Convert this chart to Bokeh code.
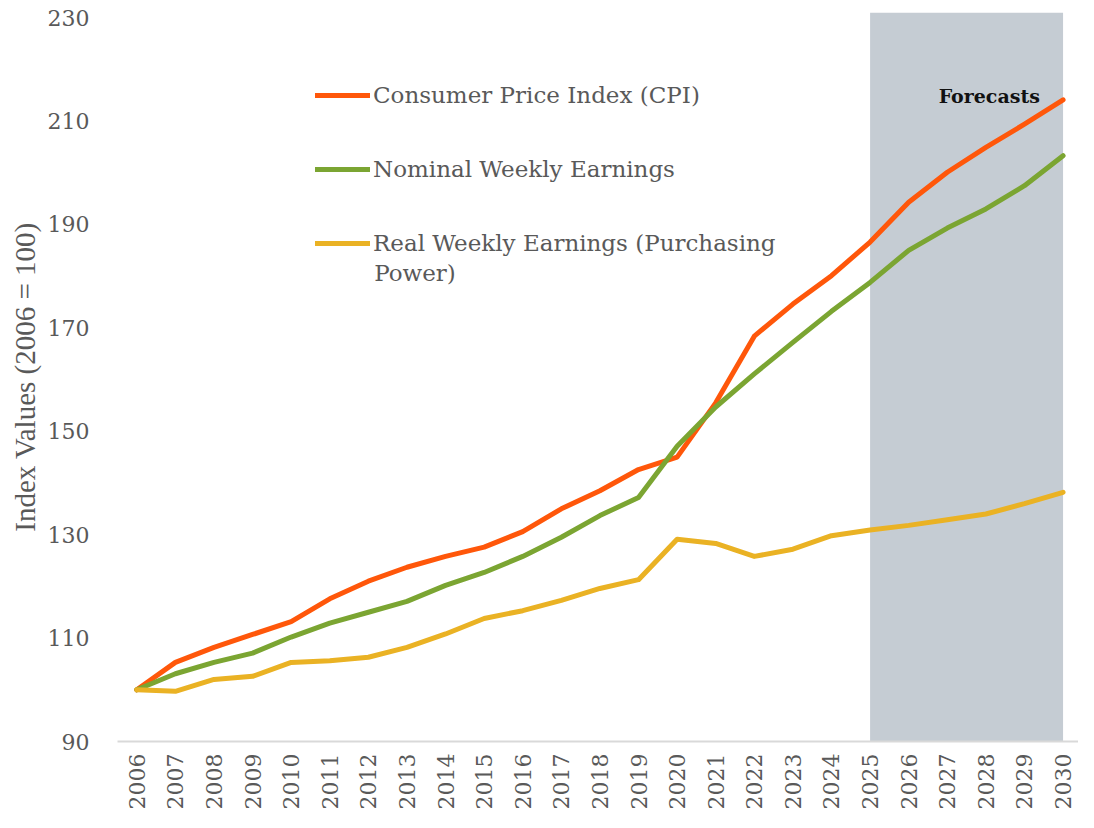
import math
from bokeh.plotting import figure
from bokeh.models import (ColumnDataSource, FixedTicker, BoxAnnotation, Label,
                          Legend, LegendItem, Range1d)
from bokeh.embed import file_html
from bokeh.resources import INLINE

years = list(range(2006, 2031))
cpi = [100, 105.3, 108.2, 110.7, 113.2, 117.6, 121.0, 123.7, 125.8, 127.6, 130.6,
       135.0, 138.5, 142.6, 145.0, 155.5, 168.4, 174.6, 180.1, 186.6, 194.3, 200.1,
       204.9, 209.4, 214.1]
nominal = [100, 103.1, 105.3, 107.1, 110.2, 112.9, 115.0, 117.1, 120.2, 122.7, 125.8,
           129.5, 133.7, 137.2, 147.1, 154.7, 161.1, 167.2, 173.2, 178.8, 185.0, 189.3,
           193.0, 197.5, 203.3]
real = [100, 99.7, 102.0, 102.6, 105.3, 105.6, 106.3, 108.2, 110.8, 113.8, 115.3,
        117.3, 119.6, 121.3, 129.1, 128.3, 125.8, 127.2, 129.8, 130.9, 131.8, 132.9,
        134.0, 136.0, 138.2]
y_ticks = [90, 110, 130, 150, 170, 190, 210, 230]
forecast_start, forecast_end = 2025, 2030
series_names = ["Consumer Price Index (CPI)", "Nominal Weekly Earnings",
                "Real Weekly Earnings (Purchasing\nPower)"]

src = ColumnDataSource(dict(year=years, cpi=cpi, nominal=nominal, real=real))

p = figure(width=1078, height=812, output_backend="svg", toolbar_location=None,
           x_range=Range1d(2005.5, 2030.4), y_range=Range1d(90, 231),
           min_border_left=117, min_border_right=0, min_border_top=12,
           min_border_bottom=71)
p.outline_line_color = None
p.grid.visible = False

p.add_layout(BoxAnnotation(left=forecast_start, right=forecast_end,
                           fill_color="#C5CCD3", fill_alpha=1.0, line_alpha=0,
                           level="underlay"))

colors = ["#FF570A", "#7BA532", "#EAB224"]
r_cpi = p.line("year", "cpi", source=src, line_color=colors[0], line_width=5,
               line_join="round", line_cap="round")
r_nom = p.line("year", "nominal", source=src, line_color=colors[1], line_width=5,
               line_join="round", line_cap="round")
r_real = p.line("year", "real", source=src, line_color=colors[2], line_width=5,
                line_join="round", line_cap="round")

first_lines = [n.split("\n")[0] for n in series_names]
legend = Legend(items=[LegendItem(label=first_lines[0], renderers=[r_cpi]),
                       LegendItem(label=first_lines[1], renderers=[r_nom]),
                       LegendItem(label=first_lines[2], renderers=[r_real])],
                location=(198, 484), orientation="vertical",
                label_text_font="DejaVu Serif", label_text_font_size="23px",
                label_text_color="#595959", glyph_width=55, glyph_height=28,
                label_height=28, label_standoff=3, spacing=46, padding=0, margin=0,
                background_fill_alpha=0, border_line_alpha=0)
p.add_layout(legend)

# wrapped continuation of the third legend entry
p.add_layout(Label(x=2012.15, y=180.7, text=series_names[2].split("\n")[1],
                   text_align="left", text_baseline="middle",
                   text_font="DejaVu Serif", text_font_size="23px",
                   text_color="#595959"))

p.add_layout(Label(x=2029.4, y=214.9, text="Forecasts", text_align="right",
                   text_baseline="middle", text_font="DejaVu Serif",
                   text_font_style="bold", text_font_size="19px",
                   text_color="#111111"))

xa = p.xaxis[0]
xa.ticker = FixedTicker(ticks=years)
xa.major_label_orientation = math.pi / 2
xa.major_label_text_font = "DejaVu Serif"
xa.major_label_text_font_size = "22px"
xa.major_label_text_color = "#595959"
xa.major_label_standoff = 6
xa.major_tick_line_color = None
xa.minor_tick_line_color = None
xa.axis_line_color = "#D9D9D9"
xa.axis_line_width = 2

ya = p.yaxis[0]
ya.ticker = FixedTicker(ticks=y_ticks)
ya.major_label_text_font = "DejaVu Serif"
ya.major_label_text_font_size = "22px"
ya.major_label_text_color = "#595959"
ya.major_label_standoff = 22
ya.major_tick_line_color = None
ya.minor_tick_line_color = None
ya.axis_line_color = None
ya.axis_label = "Index Values (2006 = 100)"
ya.axis_label_text_font = "Liberation Serif"
ya.axis_label_text_font_style = "normal"
ya.axis_label_text_font_size = "29px"
ya.axis_label_text_color = "#595959"
ya.axis_label_standoff = 4

open("out.html", "w").write(file_html(p, INLINE))
